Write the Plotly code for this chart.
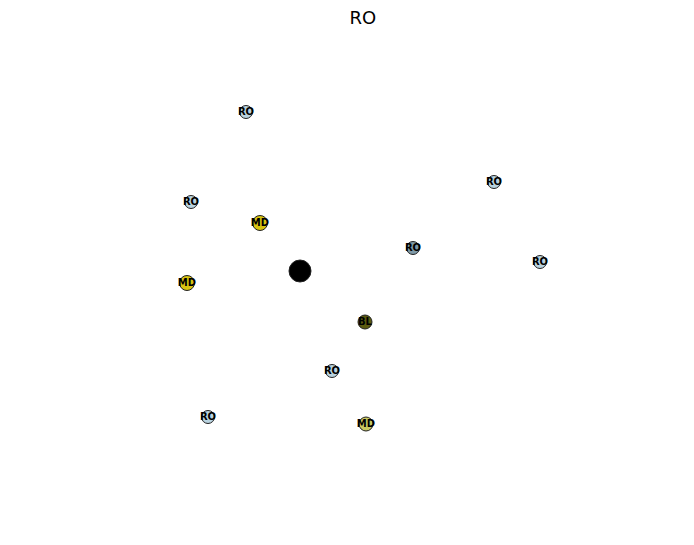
import plotly.graph_objects as go

labels = ["RO", "RO", "RO", "MD", "RO", "RO", "MD", "", "BL", "RO", "RO", "MD"]
x_vals = [246, 494, 191, 260, 413, 540, 187, 300, 365, 332, 208, 366]
y_vals = [112, 182, 202, 223, 248, 262, 283, 271, 322, 371, 417, 424]
colors = ["#b9d3e0", "#b9d3e0", "#b9d3e0", "#d8c410", "#7f9aa8", "#b9d3e0",
          "#d8c410", "#000000", "#5a5a10", "#b9d3e0", "#b9d3e0", "#c8c860"]
sizes = [13, 13, 13, 15, 13, 13, 15, 22, 14, 13, 13, 14]

fig = go.Figure(go.Scatter(
    x=x_vals, y=y_vals, mode="markers+text", text=labels,
    textposition="middle center",
    textfont=dict(size=10, color="black", family="DejaVu Sans", weight="bold"),
    marker=dict(size=sizes, color=colors, opacity=1,
                line=dict(color="#222222", width=1)),
    hoverinfo="text",
))
fig.update_layout(
    width=694, height=545,
    margin=dict(l=0, r=0, t=0, b=0),
    paper_bgcolor="white", plot_bgcolor="white",
    title=dict(text="RO", x=0.523, xanchor="center", y=0.967, yanchor="middle",
               font=dict(size=18, color="black", family="DejaVu Sans")),
    xaxis=dict(range=[0, 694], visible=False, fixedrange=True),
    yaxis=dict(range=[545, 0], visible=False, fixedrange=True),
    showlegend=False,
)
fig.write_html("out.html")
